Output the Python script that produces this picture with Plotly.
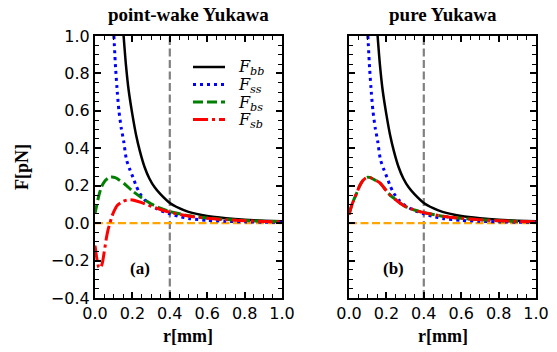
import plotly.graph_objects as go

# ---------------- data ----------------
# Left panel: point-wake Yukawa
r_bb = [0.153, 0.165, 0.18, 0.2, 0.22, 0.24, 0.265, 0.29, 0.32, 0.35, 0.4, 0.45, 0.5, 0.6, 0.7, 0.8, 0.9, 1.0]
f_bb = [1.0, 0.85, 0.71, 0.58, 0.47, 0.385, 0.30, 0.24, 0.19, 0.155, 0.108, 0.08, 0.06, 0.038, 0.026, 0.018, 0.013, 0.010]

r_ss = [0.101, 0.11, 0.12, 0.128, 0.14, 0.153, 0.168, 0.185, 0.203, 0.22, 0.239, 0.265, 0.292, 0.33, 0.37, 0.4, 0.45, 0.5, 0.6, 0.7, 0.8, 0.9, 1.0]
f_ss = [1.0, 0.83, 0.69, 0.60, 0.51, 0.44, 0.34, 0.29, 0.245, 0.20, 0.16, 0.125, 0.10, 0.077, 0.06, 0.05, 0.035, 0.025, 0.015, 0.010, 0.007, 0.005, 0.004]

r_bs_a = [0.0, 0.01, 0.02, 0.03, 0.04, 0.055, 0.07, 0.085, 0.1, 0.115, 0.13, 0.16, 0.2, 0.25, 0.3, 0.35, 0.4, 0.5, 0.6, 0.7, 0.8, 0.9, 1.0]
f_bs_a = [0.05, 0.10, 0.145, 0.18, 0.205, 0.228, 0.24, 0.246, 0.245, 0.24, 0.23, 0.208, 0.172, 0.135, 0.103, 0.08, 0.062, 0.04, 0.028, 0.02, 0.014, 0.010, 0.008]

r_sb_a = [0.0, 0.01, 0.02, 0.03, 0.04, 0.05, 0.06, 0.07, 0.08, 0.09, 0.1, 0.12, 0.15, 0.18, 0.2, 0.25, 0.3, 0.35, 0.4, 0.5, 0.6, 0.7, 0.8, 0.9, 1.0]
f_sb_a = [-0.12, -0.19, -0.235, -0.24, -0.21, -0.15, -0.085, -0.035, 0.0, 0.035, 0.06, 0.095, 0.117, 0.125, 0.124, 0.11, 0.09, 0.073, 0.058, 0.038, 0.026, 0.018, 0.013, 0.009, 0.007]

# Right panel: pure Yukawa
r_bs_b = [0.0, 0.01, 0.02, 0.03, 0.043, 0.055, 0.07, 0.085, 0.1, 0.115, 0.13, 0.15, 0.168, 0.19, 0.22, 0.25, 0.274, 0.3, 0.35, 0.4, 0.5, 0.6, 0.7, 0.8, 0.9, 1.0]
f_bs_b = [0.045, 0.08, 0.11, 0.135, 0.165, 0.195, 0.222, 0.238, 0.245, 0.243, 0.235, 0.225, 0.213, 0.185, 0.15, 0.125, 0.106, 0.09, 0.07, 0.056, 0.037, 0.026, 0.018, 0.013, 0.009, 0.007]
r_sb_b = r_bs_b
f_sb_b = f_bs_b

r_bb_b = r_bb
f_bb_b = f_bb
r_ss_b = r_ss
f_ss_b = f_ss

r_zero = [0.0, 1.0]
f_zero = [0.0, 0.0]
r_cut = [0.4, 0.4]
f_cut = [-0.4, 1.0]

legend_names = ["<i>F</i><sub><i>bb</i></sub>", "<i>F</i><sub><i>ss</i></sub>",
                "<i>F</i><sub><i>bs</i></sub>", "<i>F</i><sub><i>sb</i></sub>"]
panel_titles = ["point-wake Yukawa", "pure Yukawa"]
panel_tags = ["(a)", "(b)"]

# ---------------- figure ----------------
W, H = 557, 352


def px(x):
    return x / W


def py(y):
    return 1 - y / H


fig = go.Figure()

styles = [
    dict(color="black", width=2.5, dash="solid"),
    dict(color="#0000FF", width=3, dash="3px,4px"),
    dict(color="#008000", width=3, dash="10px,4px"),
    dict(color="#FF0000", width=3, dash="15px,4px,3px,4px"),
]

panels = [
    ("x", "y", [(r_bb, f_bb), (r_ss, f_ss), (r_bs_a, f_bs_a), (r_sb_a, f_sb_a)]),
    ("x2", "y2", [(r_bb_b, f_bb_b), (r_ss_b, f_ss_b), (r_bs_b, f_bs_b), (r_sb_b, f_sb_b)]),
]

for pi, (xa, ya, series) in enumerate(panels):
    fig.add_trace(go.Scatter(x=r_cut, y=f_cut, mode="lines", xaxis=xa, yaxis=ya,
                             line=dict(color="#808080", width=2.2, dash="8px,3.5px"),
                             showlegend=False, hoverinfo="skip"))
    fig.add_trace(go.Scatter(x=r_zero, y=f_zero, mode="lines", xaxis=xa, yaxis=ya,
                             line=dict(color="#FFA500", width=2.2, dash="8px,3.5px"),
                             showlegend=False, hoverinfo="skip"))
    for si, (rr, ff) in enumerate(series):
        fig.add_trace(go.Scatter(x=rr, y=ff, mode="lines", xaxis=xa, yaxis=ya,
                                 name=legend_names[si], line=dict(**styles[si]),
                                 line_shape="spline", line_smoothing=0.6,
                                 showlegend=False))

x_dom = [[px(95), px(282)], [px(349), px(536)]]
y_dom = [py(298), py(36)]

axis_common = dict(showline=True, linewidth=2.2, linecolor="black", mirror="allticks",
                   ticks="inside", ticklen=6, tickwidth=1.6, tickcolor="black",
                   showgrid=False, zeroline=False, automargin=False,
                   tickfont=dict(family="DejaVu Sans", size=16, color="black"),
                   minor=dict(ticks="inside", ticklen=3.5, tickwidth=1.3, tickcolor="black", dtick=0.05))

fig.update_layout(
    width=W, height=H, margin=dict(l=0, r=0, t=0, b=0, autoexpand=False),
    paper_bgcolor="white", plot_bgcolor="white",
    xaxis=dict(domain=x_dom[0], range=[0, 1], dtick=0.2, tick0=0, tickformat=".1f", anchor="y", **axis_common),
    yaxis=dict(domain=y_dom, range=[-0.4, 1.0], dtick=0.2, tick0=0, tickformat=".1f", anchor="x", **axis_common),
    xaxis2=dict(domain=x_dom[1], range=[0, 1], dtick=0.2, tick0=0, tickformat=".1f", anchor="y2", **axis_common),
    yaxis2=dict(domain=y_dom, range=[-0.4, 1.0], dtick=0.2, tick0=0, showticklabels=False, anchor="x2", **axis_common),
    showlegend=False,
)

# legend (drawn by hand to match the tight row spacing of the reference)
leg_rows = [67, 84.5, 102, 119.5]
for si, yrow in enumerate(leg_rows):
    st = styles[si]
    fig.add_shape(type="line", xref="paper", yref="paper",
                  x0=px(193), x1=px(225), y0=py(yrow), y1=py(yrow),
                  line=dict(color=st["color"], width=st["width"], dash=st["dash"] if st["dash"] != "solid" else None))
    fig.add_annotation(x=px(236), y=py(yrow + 1), xref="paper", yref="paper", text=legend_names[si],
                       showarrow=False, xanchor="left", yanchor="middle",
                       font=dict(family="DejaVu Serif", size=16, color="black"))

serif = "Liberation Serif, Times New Roman, serif"
for i, t in enumerate(panel_titles):
    cx = (x_dom[i][0] + x_dom[i][1]) / 2
    fig.add_annotation(x=cx, y=py(14), xref="paper", yref="paper", text="<b>%s</b>" % t,
                       showarrow=False, font=dict(family=serif, size=19, color="black"),
                       xanchor="center", yanchor="middle")
    fig.add_annotation(x=cx, y=py(336), xref="paper", yref="paper", text="<b>r[mm]</b>",
                       showarrow=False, font=dict(family=serif, size=18, color="black"),
                       xanchor="center", yanchor="middle")
    fig.add_annotation(x=0.24, y=-0.24, xref="x" if i == 0 else "x2", yref="y" if i == 0 else "y2",
                       text="<b>%s</b>" % panel_tags[i], showarrow=False,
                       font=dict(family=serif, size=17, color="black"),
                       xanchor="center", yanchor="middle")

fig.add_annotation(x=px(22), y=py(167), xref="paper", yref="paper", text="<b>F[pN]</b>",
                   showarrow=False, textangle=-90, font=dict(family=serif, size=18, color="black"),
                   xanchor="center", yanchor="middle")

fig.write_html("out.html", config={"displayModeBar": False},
               post_script="document.body.style.margin='0px';")
